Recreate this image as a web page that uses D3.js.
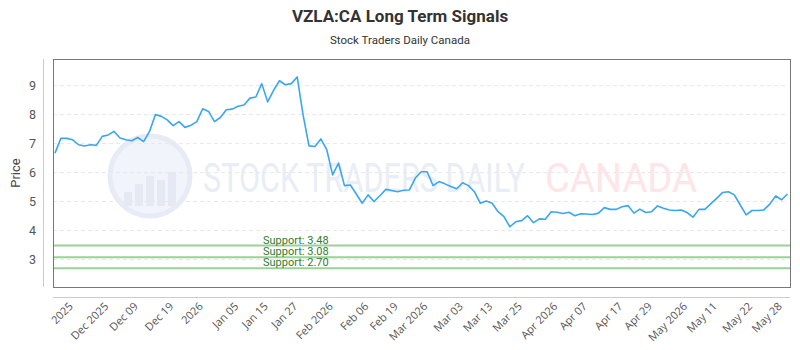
<!DOCTYPE html>
<html>
<head>
<meta charset="utf-8">
<script src="https://cdn.jsdelivr.net/npm/d3@7"></script>
<style>
  body { margin: 0; background: #fff; }
  svg { display: block; font-family: "Roboto", "Noto Sans", sans-serif; }
</style>
</head>
<body>
<svg></svg>
<script>
const width = 800;
const height = 350;

// closing prices, one per trading day
var prices = [
  6.67, 7.18, 7.18, 7.13, 6.96, 6.92, 6.96, 6.94, 7.25, 7.30,
  7.42, 7.19, 7.13, 7.10, 7.21, 7.07, 7.42, 8.00, 7.94, 7.82,
  7.62, 7.76, 7.56, 7.63, 7.76, 8.20, 8.11, 7.76, 7.90, 8.17,
  8.19, 8.29, 8.33, 8.57, 8.61, 9.07, 8.44, 8.84, 9.17, 9.03,
  9.07, 9.30, 7.98, 6.92, 6.90, 7.16, 6.79, 5.92, 6.33, 5.55,
  5.57, 5.26, 4.94, 5.23, 5.00, 5.20, 5.42, 5.38, 5.34, 5.39,
  5.40, 5.81, 6.03, 6.03, 5.55, 5.69, 5.61, 5.52, 5.44, 5.65,
  5.55, 5.34, 4.94, 5.02, 4.94, 4.65, 4.48, 4.13, 4.30, 4.34,
  4.51, 4.27, 4.40, 4.39, 4.65, 4.63, 4.59, 4.63, 4.51, 4.58,
  4.57, 4.55, 4.60, 4.79, 4.73, 4.73, 4.82, 4.86, 4.60, 4.74,
  4.62, 4.65, 4.85, 4.77, 4.71, 4.69, 4.71, 4.62, 4.46, 4.73,
  4.73, 4.92, 5.11, 5.31, 5.34, 5.23, 4.88, 4.54, 4.69, 4.69,
  4.71, 4.91, 5.19, 5.06, 5.26
];

// x axis labels and the trading day index they sit on
var tickLabels = ["2025", "Dec 2025", "Dec 09", "Dec 19", "2026", "Jan 05", "Jan 15", "Jan 27",
  "Feb 2026", "Feb 06", "Feb 19", "Mar 2026", "Mar 03", "Mar 13", "Mar 25", "Apr 2026",
  "Apr 07", "Apr 17", "Apr 29", "May 2026", "May 11", "May 22", "May 28"];
var tickIndex = [3, 9, 14, 20, 25, 31, 36, 41, 47, 53, 58, 63, 69, 74, 79, 85, 90, 96, 101, 107, 112, 118, 123];

var yTicks = [3, 4, 5, 6, 7, 8, 9];
var supports = [3.48, 3.08, 2.70];

var plot = {left: 53, right: 790, top: 59, bottom: 287};

var xScale = d3.scaleLinear().domain([0, prices.length - 1]).range([plot.left + 2, plot.right - 2.5]);
var yScale = d3.scaleLinear().domain([2.05, 9.92]).range([plot.bottom, plot.top]);

var svg = d3.select("svg").attr("width", width).attr("height", height);

// title
svg.append("text")
  .attr("x", width / 2).attr("y", 22)
  .attr("text-anchor", "middle")
  .attr("font-size", 17).attr("font-weight", "bold")
  .attr("fill", "#333")
  .text("VZLA:CA Long Term Signals");

svg.append("text")
  .attr("x", width / 2).attr("y", 44)
  .attr("text-anchor", "middle")
  .attr("font-size", 11.5)
  .attr("fill", "#333")
  .text("Stock Traders Daily Canada");

// watermark
var wm = svg.append("g").attr("class", "watermark");
wm.append("circle")
  .attr("cx", 150).attr("cy", 176).attr("r", 40)
  .attr("fill", "#f1f4fb").attr("stroke", "#e6ebf5").attr("stroke-width", 5);
var wmBars = [14, 22, 30, 26, 34];
wm.selectAll("rect")
  .data(wmBars)
  .enter()
  .append("rect")
  .attr("x", (d, i) => 124 + i * 11)
  .attr("y", d => 206 - d)
  .attr("width", 8)
  .attr("height", d => d)
  .attr("fill", "#e4e9f4");
wm.append("text")
  .attr("x", 203).attr("y", 192)
  .attr("font-size", 40)
  .attr("textLength", 322).attr("lengthAdjust", "spacingAndGlyphs")
  .attr("fill", "#e9edf5")
  .text("STOCK TRADERS DAILY");
wm.append("text")
  .attr("x", 545).attr("y", 192)
  .attr("font-size", 40)
  .attr("textLength", 152).attr("lengthAdjust", "spacingAndGlyphs")
  .attr("fill", "#fde5e8")
  .text("CANADA");

// grid lines
svg.append("g")
  .selectAll("line")
  .data(yTicks)
  .enter()
  .append("line")
  .attr("x1", plot.left).attr("x2", plot.right - 5)
  .attr("y1", d => yScale(d)).attr("y2", d => yScale(d))
  .attr("stroke", "#e8e8e8")
  .attr("stroke-dasharray", "4,3");

// y labels
svg.append("g")
  .selectAll("text")
  .data(yTicks)
  .enter()
  .append("text")
  .attr("x", 36)
  .attr("y", d => yScale(d) + 4.5)
  .attr("text-anchor", "end")
  .attr("font-size", 12.5)
  .attr("fill", "#555")
  .text(d => d);

svg.append("text")
  .attr("transform", "translate(20,173) rotate(-90)")
  .attr("text-anchor", "middle")
  .attr("font-size", 13)
  .attr("fill", "#444")
  .text("Price");

// axis lines
svg.append("line")
  .attr("x1", 43.5).attr("x2", 43.5)
  .attr("y1", plot.top).attr("y2", plot.bottom)
  .attr("stroke", "#ccc");
svg.append("line")
  .attr("x1", plot.left).attr("x2", plot.right)
  .attr("y1", 297.5).attr("y2", 297.5)
  .attr("stroke", "#ccc");

// support lines
var sup = svg.append("g")
  .selectAll("g")
  .data(supports)
  .enter()
  .append("g");
sup.append("line")
  .attr("x1", plot.left).attr("x2", plot.right)
  .attr("y1", d => yScale(d)).attr("y2", d => yScale(d))
  .attr("stroke", "#99d199")
  .attr("stroke-width", 2);
sup.append("text")
  .attr("x", 263)
  .attr("y", d => yScale(d) - 2)
  .attr("font-size", 11)
  .attr("fill", "#2e7d32")
  .text(d => "Support: " + d.toFixed(2));

// price line
var lineGenerator = d3.line()
  .x((d, i) => xScale(i))
  .y(d => yScale(d));

svg.append("path")
  .datum(prices)
  .attr("d", lineGenerator)
  .attr("fill", "none")
  .attr("stroke", "#3aa6f3")
  .attr("stroke-width", 1.6)
  .attr("stroke-linejoin", "round");

// plot border
svg.append("rect")
  .attr("x", plot.left + 0.5).attr("y", plot.top + 0.5)
  .attr("width", plot.right - plot.left).attr("height", plot.bottom - plot.top)
  .attr("fill", "none")
  .attr("stroke", "#777");

// x labels
svg.append("g")
  .selectAll("text")
  .data(tickLabels)
  .enter()
  .append("text")
  .attr("transform", (d, i) => "translate(" + (xScale(tickIndex[i]) + 1) + ",307) rotate(-45)")
  .attr("text-anchor", "end")
  .attr("font-family", "Open Sans")
  .attr("font-size", 11)
  .attr("fill", "#555")
  .text(d => d);
</script>
</body>
</html>
